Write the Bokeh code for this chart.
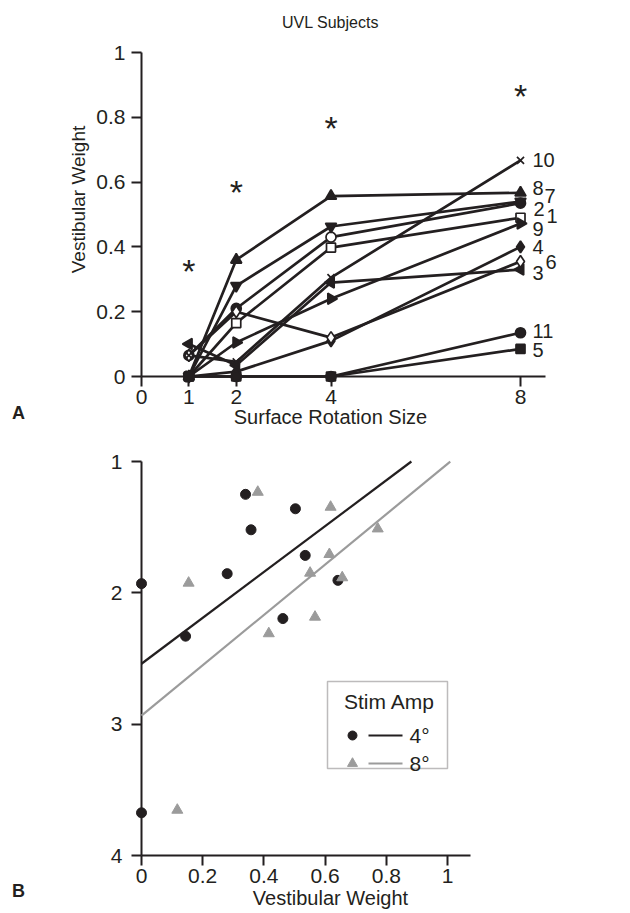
import math
import numpy as np
from bokeh.plotting import figure
from bokeh.models import Range1d, FixedTicker, ColumnDataSource, BoxAnnotation
from bokeh.layouts import column
from bokeh.embed import file_html
from bokeh.resources import INLINE
from bokeh.core.properties import value

# ---------------- data: panel A ----------------
rotation_sizes = [1, 2, 4, 8]
x_tick_vals_A = [0, 1, 2, 4, 8]
y_tick_vals_A = [0, 0.2, 0.4, 0.6, 0.8, 1]
y_tick_text_A = ["0", "0.2", "0.4", "0.6", "0.8", "1"]
subject_ids = ["1", "2", "3", "4", "5", "6", "7", "8", "9", "10", "11"]
w_s1 = [0.0, 0.165, 0.398, 0.490]
w_s2 = [0.065, 0.210, 0.430, 0.535]
w_s3 = [0.100, 0.035, 0.290, 0.330]
w_s4 = [0.0, 0.015, 0.110, 0.400]
w_s5 = [0.0, 0.0, 0.0, 0.085]
w_s6 = [0.065, 0.200, 0.120, 0.355]
w_s7 = [0.0, 0.280, 0.463, 0.540]
w_s8 = [0.0, 0.360, 0.557, 0.567]
w_s9 = [0.0, 0.105, 0.240, 0.472]
w_s10 = [0.065, 0.045, 0.305, 0.667]
w_s11 = [0.0, 0.0, 0.0, 0.135]
significance_y = [0.335, 0.58, 0.775, 0.875]

# ---------------- data: panel B ----------------
x_tick_vals_B = [0, 0.2, 0.4, 0.6, 0.8, 1]
x_tick_text_B = ["0", "0.2", "0.4", "0.6", "0.8", "1"]
y_tick_vals_B = [1, 2, 3, 4]
amp4_weight = [0.340, 0.503, 0.358, 0.535, 0.280, 0.642, 0.462, 0.144, 0.0, 0.0]
amp4_value = [1.25, 1.36, 1.52, 1.715, 1.854, 1.905, 2.196, 2.33, 1.93, 3.675]
amp8_weight = [0.380, 0.618, 0.772, 0.614, 0.551, 0.656, 0.154, 0.567, 0.416, 0.117]
amp8_value = [1.233, 1.347, 1.512, 1.707, 1.849, 1.884, 1.925, 2.184, 2.31, 3.654]
fit_intercept = [2.54, 2.935]
fit_slope = [-1.746, -1.917]
fit_x_end = [0.882, 1.009]
amp_labels = ["4°", "8°"]

# ---------------- styles ----------------
FONT = "Liberation Sans"
INK = "#231f20"
GRAY = "#9b9b9b"
weights = [w_s1, w_s2, w_s3, w_s4, w_s5, w_s6, w_s7, w_s8, w_s9, w_s10, w_s11]
mk_kind = ["square", "circle", "triangle", "diamond", "square", "diamond",
           "inverted_triangle", "triangle", "triangle", "x", "circle"]
mk_fill = ["white", INK, INK, INK, INK, "white", INK, INK, INK, INK, INK]
mk_angle = [0, 0, math.pi / 2, 0, 0, 0, 0, 0, -math.pi / 2, 0, 0]
mk_size = [9, 10, 11, 12, 9, 12, 11, 11, 11, 10, 10]
open_points = {(1, 2)}  # subject 2 drawn open at size 4
lab_dx = [26, 13, 12, 12, 12, 25, 24, 12, 12, 12, 12]
lab_dy = [-2, 6, 3, 0, 1.5, 1, -6, -5, 5, 0, -2]

W = 630
FR_L, FR_R = 141, 545   # shared frame edges (column aligns frames)


def style(p, standoff):
    for ax in p.axis:
        ax.axis_line_width = 2
        ax.axis_line_color = INK
        ax.major_tick_line_width = 2
        ax.major_tick_line_color = INK
        ax.major_tick_out = 10
        ax.major_tick_in = 0
        ax.minor_tick_line_color = None
        ax.major_label_text_font = FONT
        ax.major_label_text_font_size = "21px"
        ax.major_label_text_color = INK
    p.yaxis.major_label_standoff = standoff
    p.xaxis.major_label_standoff = 3
    p.grid.visible = False
    p.outline_line_color = None


def txt(p, x, y, text, size="20px", angle=0, bold=False, align="center"):
    r = p.text(x=[x], y=[y], text=[text], angle=angle, text_font=value(FONT),
               text_font_size=size, text_color=INK, text_align=align,
               text_baseline="middle", text_font_style="bold" if bold else "normal")
    r.level = "overlay"
    return r


# ---------------- panel A ----------------
A_H = 440
A_t, A_b = 52, 376
A_x0, A_x8 = 141, 520
A_ppu_x = (A_x8 - A_x0) / 8.0
pA = figure(width=W, height=A_H, output_backend="svg", toolbar_location=None,
            x_range=Range1d(0, (FR_R - FR_L) / A_ppu_x), y_range=Range1d(0, 1),
            min_border_left=FR_L, min_border_right=W - FR_R,
            min_border_top=A_t, min_border_bottom=A_H - A_b)
pA.xaxis.ticker = FixedTicker(ticks=x_tick_vals_A)
pA.yaxis.ticker = FixedTicker(ticks=y_tick_vals_A)
pA.yaxis.major_label_overrides = {v: t for v, t in zip(y_tick_vals_A, y_tick_text_A)}
style(pA, 6)


def A_pt(px, py):
    return (px - A_x0) / A_ppu_x, (A_b - py) / (A_b - A_t)


for w in weights:
    r = pA.line(rotation_sizes, w, line_color=INK, line_width=2.7)
    r.level = "overlay"

rows = dict(x=[], y=[], marker=[], fill=[], angle=[], size=[])
for i, w in enumerate(weights):
    for j, (sx, wy) in enumerate(zip(rotation_sizes, w)):
        rows["x"].append(sx)
        rows["y"].append(wy)
        rows["marker"].append(mk_kind[i])
        rows["fill"].append("white" if (i, j) in open_points else mk_fill[i])
        rows["angle"].append(mk_angle[i])
        rows["size"].append(mk_size[i])
src = ColumnDataSource(rows)
rs = pA.scatter(x="x", y="y", marker="marker", fill_color="fill", angle="angle",
                size="size", line_color=INK, line_width=1.7, source=src)
rs.level = "overlay"

lab_src = ColumnDataSource(dict(x=[rotation_sizes[-1]] * len(weights),
                                y=[w[-1] for w in weights], text=subject_ids,
                                dx=lab_dx, dy=lab_dy))
rl = pA.text(x="x", y="y", text="text", x_offset="dx", y_offset="dy", source=lab_src,
             text_font=value(FONT), text_font_size="20px", text_color=INK,
             text_align="left", text_baseline="middle")
rl.level = "overlay"

rst = pA.text(x=rotation_sizes, y=significance_y, text=["*"] * len(rotation_sizes),
              text_font=value(FONT), text_font_size="34px", text_color=INK,
              text_align="center", text_baseline="middle", y_offset=3)
rst.level = "overlay"

txt(pA, *A_pt(330, 22), "UVL Subjects", size="16px")
txt(pA, *A_pt(330, 416), "Surface Rotation Size", size="20px")
txt(pA, *A_pt(78, 199), "Vestibular Weight", size="19px", angle=math.pi / 2)
txt(pA, *A_pt(18, 412), "A", size="18px", bold=True)

# ---------------- panel B ----------------
B_top_page = A_H
B_H = 913 - A_H
B_t, B_b = 461, 855
B_ppu_x = 306.0
B_ppu_y = (B_b - B_t) / 3.0
B_axis_end = 470
pB = figure(width=W, height=B_H, output_backend="svg", toolbar_location=None,
            x_range=Range1d(0, (FR_R - FR_L) / B_ppu_x), y_range=Range1d(4, 1),
            min_border_left=FR_L, min_border_right=W - FR_R,
            min_border_top=B_t - B_top_page, min_border_bottom=913 - B_b)
pB.xaxis.ticker = FixedTicker(ticks=x_tick_vals_B)
pB.xaxis.major_label_overrides = {v: t for v, t in zip(x_tick_vals_B, x_tick_text_B)}
pB.xaxis.bounds = (0, (B_axis_end - FR_L) / B_ppu_x)
pB.yaxis.ticker = FixedTicker(ticks=y_tick_vals_B)
style(pB, 9)


def B_pt(px, py):
    return (px - FR_L) / B_ppu_x, 1 + (py - B_t) / B_ppu_y


fit_colors = [INK, GRAY]
for b0, b1, xe, c in zip(fit_intercept, fit_slope, fit_x_end, fit_colors):
    fx = np.array([0.0, xe])
    r = pB.line(fx, b0 + b1 * fx, line_color=c, line_width=2.2)
    r.level = "overlay"

r4 = pB.scatter(amp4_weight, amp4_value, marker="circle", size=10,
                fill_color=INK, line_color=INK)
r8 = pB.scatter(amp8_weight, amp8_value, marker="triangle", size=11,
                fill_color=GRAY, line_color=GRAY)
r4.level = "overlay"
r8.level = "overlay"

# legend drawn by hand (marker, line, label on one row)
bl, bt = B_pt(327, 681)
br, bb = B_pt(447, 768)
pB.add_layout(BoxAnnotation(left=bl, right=br, top=bt, bottom=bb, fill_color=None,
                            line_color=INK, line_width=1.5))
txt(pB, *B_pt(389, 701), "Stim Amp", size="21px")
for k, (mk, c, lab) in enumerate(zip(["circle", "triangle"], fit_colors, amp_labels)):
    py = 735 + 28 * k
    mx, my = B_pt(352, py)
    rm = pB.scatter([mx], [my], marker=mk, size=9 if k == 0 else 10,
                    fill_color=c, line_color=c)
    rm.level = "overlay"
    lx0, _ = B_pt(368, py)
    lx1, _ = B_pt(402, py)
    pB.line([lx0, lx1], [my, my], line_color=c, line_width=2)
    tx, ty = B_pt(409, py)
    txt(pB, tx, ty, lab, size="21px", align="left")

txt(pB, *B_pt(330, 897), "Vestibular Weight", size="20px")
txt(pB, *B_pt(18, 890), "B", size="18px", bold=True)

layout = column(pA, pB, spacing=0)
open("out.html", "w").write(file_html(layout, INLINE))
